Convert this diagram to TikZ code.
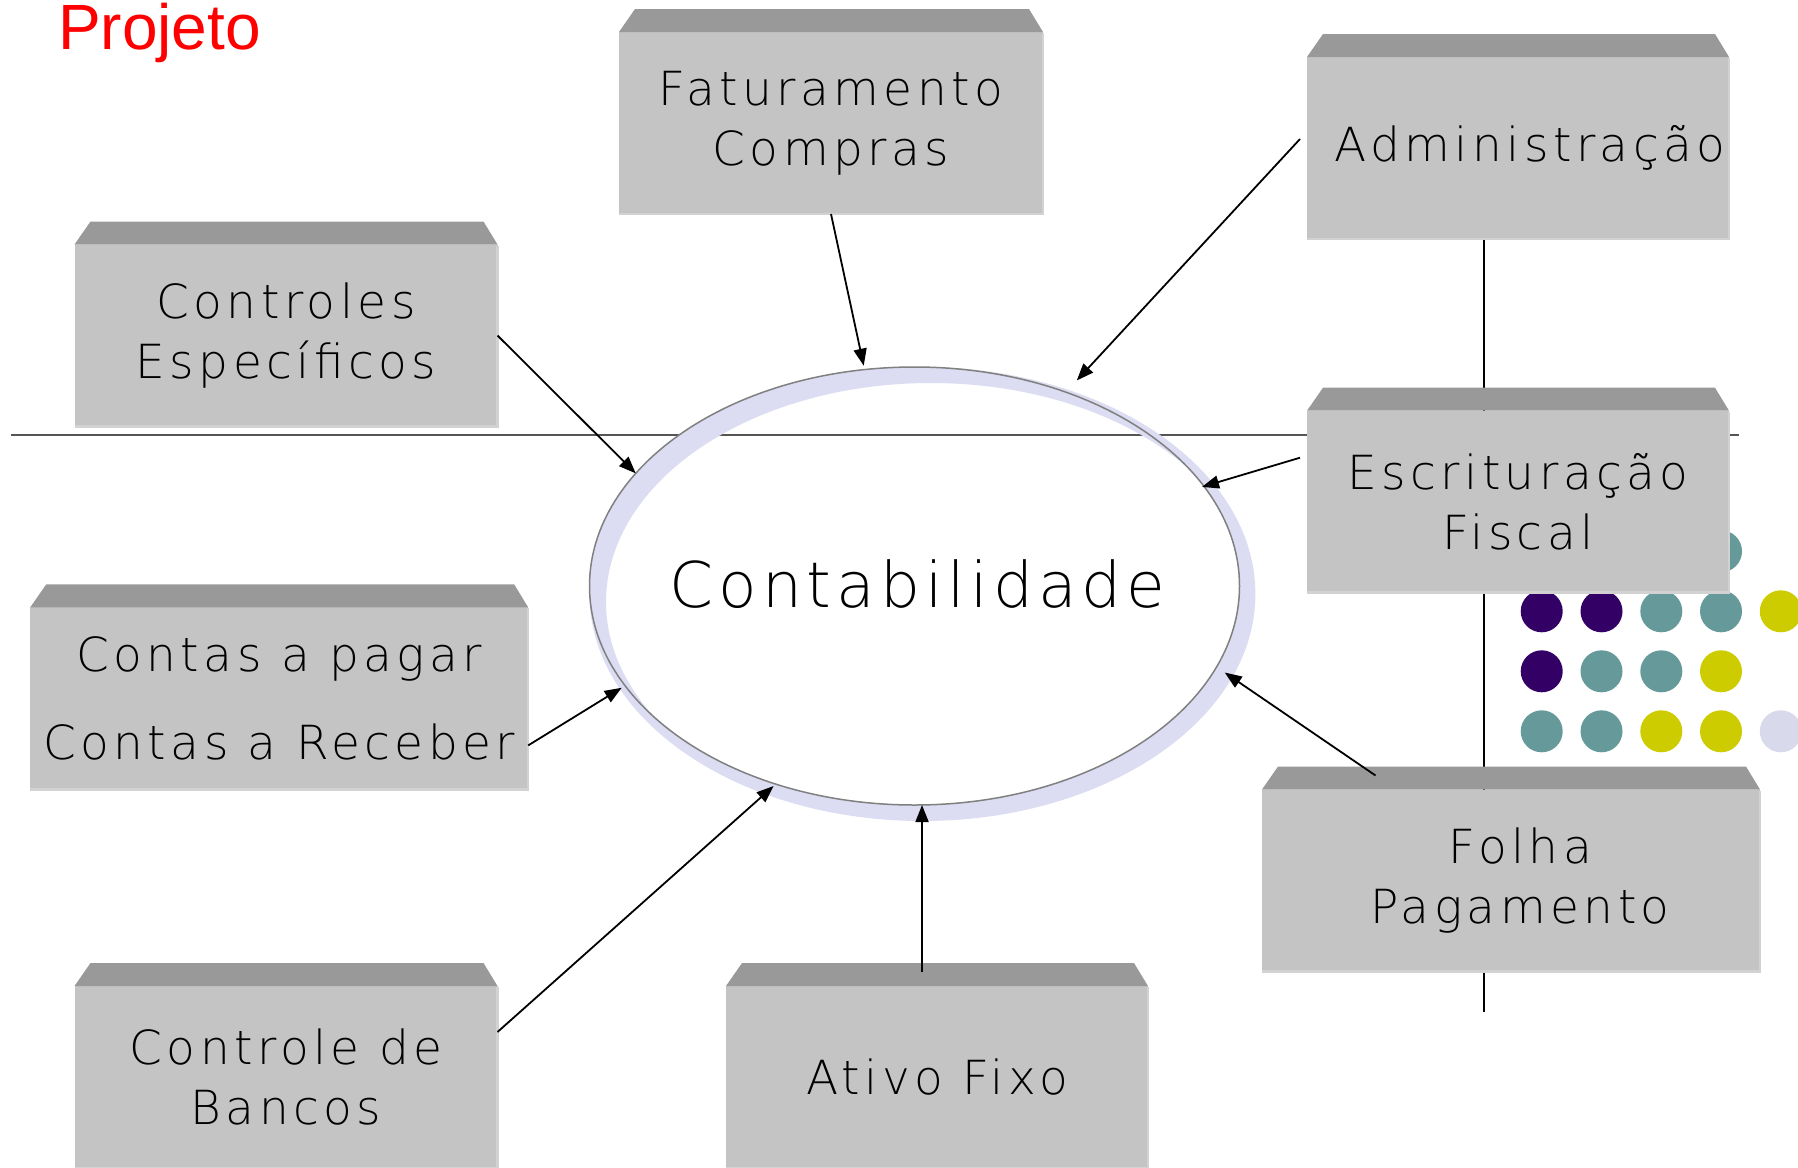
\documentclass[tikz,border=0pt]{standalone}
\usepackage{fontspec}
\usetikzlibrary{arrows.meta,shapes.geometric}
\newfontfamily\boxfont{DejaVu Sans ExtraLight}[LetterSpace=9.5]
\newfontfamily\ellfont{DejaVu Sans ExtraLight}[LetterSpace=8]
\newfontfamily\titlefont{Liberation Sans}
\definecolor{bevelc}{HTML}{999999}
\definecolor{facec}{HTML}{C4C4C4}
\definecolor{edgec}{HTML}{D2D2D2}
\definecolor{lav}{HTML}{DCDCF2}
\definecolor{dotpurple}{HTML}{330066}
\definecolor{dotteal}{HTML}{669999}
\definecolor{dotyellow}{HTML}{CCCC00}
\definecolor{dotlav}{HTML}{D9D9EC}
\definecolor{ringc}{HTML}{808080}
\definecolor{hlinec}{HTML}{555555}
\newcommand\boxdeco[1]{%
  \fill[bevelc] (#1.north west) -- ([xshift=16pt,yshift=23pt]#1.north west) -- ([xshift=-14pt,yshift=23pt]#1.north east) -- (#1.north east) -- cycle;
  \draw[edgec, line width=2.5pt] ([yshift=-1pt]#1.north east) -- (#1.south east) -- (#1.south west);
}
\begin{document}
\begin{tikzpicture}[x=1pt,y=-1pt,
  boxface/.style={fill=facec, inner sep=0pt, outer sep=0pt, minimum width=423pt, minimum height=182pt,
    font=\boxfont\fontsize{47}{60}\selectfont, align=center, text=black},
  widebox/.style={minimum width=498pt},
  arr/.style={line width=1.8pt, -{Triangle[length=17pt,width=13pt]}}]
\useasboundingbox (0,0) rectangle (1798,1167);
\coordinate (ec) at (914.5,586);
\fill[white] (ec) ellipse[x radius=325,y radius=219];
% background lines
\draw[hlinec, line width=2pt] (11,435) -- (1739,435);
\draw[black, line width=2pt] (1483.5,239) -- (1483.5,1012);
% lavender crescents
\fill[lav, even odd rule] (922.4,594) ellipse[x radius=333,y radius=227] (ec) ellipse[x radius=325,y radius=219];
\begin{scope}
  \clip (ec) ellipse[x radius=325,y radius=219];
  \fill[lav, even odd rule] (ec) ellipse[x radius=325,y radius=219] (931,602) ellipse[x radius=325,y radius=219];
\end{scope}
\node[ellipse, draw=ringc, line width=1.5pt, minimum width=650pt, minimum height=438pt, inner sep=0pt, outer sep=0pt] (ell) at (ec) {};
\node[inner sep=0pt, font=\ellfont\fontsize{63}{63}\selectfont] (contab) at ([xshift=3pt,yshift=2pt]ell.center) {Contabilidade};
% dots
\foreach \x/\y/\c in {1721/551.3/dotteal,
  1541.7/611.3/dotpurple, 1601.5/611.3/dotpurple, 1661.3/611.3/dotteal, 1721/611.3/dotteal, 1780.8/611.3/dotyellow,
  1541.7/671.3/dotpurple, 1601.5/671.3/dotteal, 1661.3/671.3/dotteal, 1721/671.3/dotyellow,
  1541.7/731.3/dotteal, 1601.5/731.3/dotteal, 1661.3/731.3/dotyellow, 1721/731.3/dotyellow, 1780.8/731.3/dotlav}
  \fill[\c] (\x,\y) circle[radius=21];
% boxes
\node[boxface, minimum width=424pt] (fat) at (831,123) {Faturamento\\Compras};
\node[boxface] (ctrl) at (286,335.5) {Controles\\Específicos};
\node[boxface, minimum width=422pt] (adm) at (1518,148) {\hspace*{24pt}Administração};
\node[boxface, minimum width=422pt] (escr) at (1518,501.7) {Escrituração\\Fiscal};
\node[boxface, widebox] (contas) at (279.2,698.4) {Contas a pagar\\[28pt]Contas a Receber};
\node[boxface, widebox] (folha) at (1511,880.5) {\hspace*{18pt}Folha\\\hspace*{18pt}Pagamento};
\node[boxface] (bancos) at (286,1077) {Controle de\\Bancos};
\node[boxface, minimum width=422pt] (ativo) at (937,1077) {Ativo Fixo};
\boxdeco{fat}\boxdeco{ctrl}\boxdeco{adm}\boxdeco{escr}
\boxdeco{contas}\boxdeco{folha}\boxdeco{bancos}\boxdeco{ativo}
% title
\node[anchor=base west, inner sep=0pt, text=red, font=\titlefont\fontsize{64}{64}\selectfont] (proj) at (58,49) {Projeto};
% arrows
\coordinate (ativoS) at ([xshift=-15pt,yshift=14pt]ativo.north);
\draw[arr, shorten >=4pt] (fat.south) -- (ell.103);
\draw[arr, shorten >=16pt] ([xshift=-7pt,yshift=9pt]adm.west) -- (ell.52);
\draw[arr] (ctrl.east) -- (ell.158);
\draw[arr, shorten >=-2pt] ([xshift=-7pt,yshift=44pt]escr.west) -- (ell.19);
\draw[arr, shorten >=4pt] ([yshift=-47pt]contas.east) -- (ell.199);
\draw[arr, shorten >=10pt] ([xshift=113.5pt,yshift=14pt]folha.north west) -- (ell.345);
\draw[arr, shorten >=3pt] ([yshift=45pt]bancos.east) -- (ell.235);
\draw[arr] (ativoS) -- (ativoS |- ell.south);
\end{tikzpicture}
\end{document}
